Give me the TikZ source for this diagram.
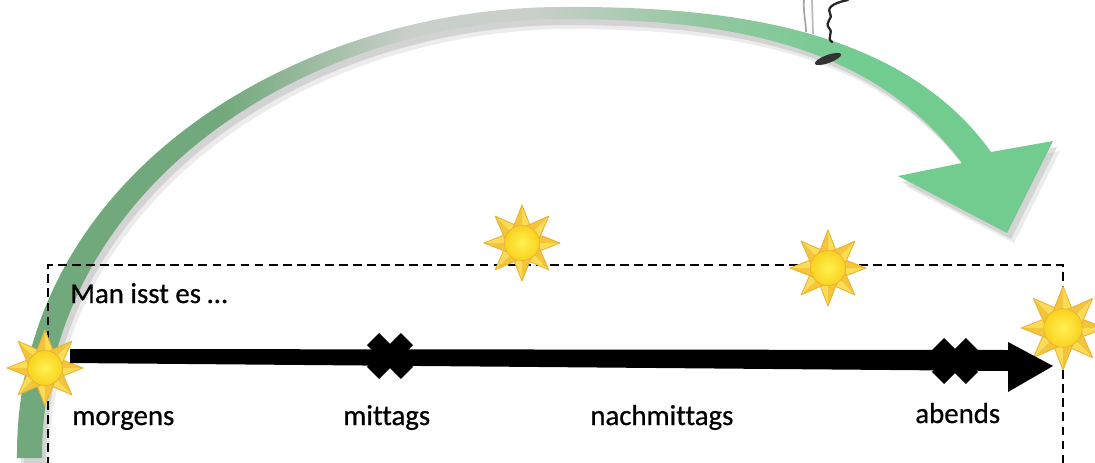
\documentclass[tikz,border=0pt]{standalone}
\usepackage{fontspec}
\setmainfont{Carlito}[Ligatures=NoCommon, FakeBold=0.6]

% colours of the day-arc, the suns and the frame
\definecolor{bandL}{HTML}{72A97C}
\definecolor{bandM}{HTML}{C9CFC9}
\definecolor{bandR2}{HTML}{93C7A0}
\definecolor{bandR}{HTML}{72CC90}
\definecolor{rayA}{HTML}{FBDC56}
\definecolor{rayB}{HTML}{F4C43A}
\definecolor{sunedge}{HTML}{E9B233}
\definecolor{sunhi}{HTML}{FFF150}
\definecolor{sunlo}{HTML}{F9D21E}

% left-to-right colour run of the arc (the path box spans 25bp..75bp)
\pgfdeclarehorizontalshading{arcband}{100bp}{%
  color(0bp)=(bandL); color(35bp)=(bandL); color(44bp)=(bandM);
  color(50bp)=(bandM); color(58bp)=(bandR2); color(66bp)=(bandR);
  color(100bp)=(bandR)}

\tikzset{
  % outline of the green arc with its arrowhead
  bandpath/.style={insert path={
    (17,458) .. controls (15,172) and (300,8) .. (560,7)
    .. controls (720,6) and (900,25) .. (991,152)
    -- (1053,141) -- (1007,233) -- (898,176) -- (962,163)
    .. controls (870,40) and (720,19) .. (560,19)
    .. controls (300,21) and (42,190) .. (42,458) -- cycle}},
  framebox/.style={draw=black, line width=1.1pt, dash pattern=on 5pt off 3pt},
  lbl/.style={font=\fontsize{16.4}{20}\selectfont, text=black,
    inner sep=0pt, anchor=base west},
  % a sun: eight two-tone rays round a shaded disk
  sun/.pic={
    \foreach \a in {0,45,...,315}{
      \fill[rayA] (\a+31:17.5) -- (\a:38) -- (\a:15) -- cycle;
      \fill[rayB] (\a-31:17.5) -- (\a:38) -- (\a:15) -- cycle;
      \draw[sunedge, line width=0.5pt, line join=round]
        (\a+31:17.5) -- (\a:38) -- (\a-31:17.5);
    }
    \shade[inner color=sunhi, outer color=sunlo] (0,0) circle (17.5);
    \draw[sunedge, line width=0.4pt] (0,0) circle (17.5);
  },
  % a thick black cross mark on the time line
  xmark/.pic={
    \fill[black, rotate=45] (-24,-8.5) rectangle (24,8.5);
    \fill[black, rotate=-45] (-24,-8.5) rectangle (24,8.5);
  }
}

\begin{document}
\begin{tikzpicture}[x=0.02cm, y=-0.02cm]
\useasboundingbox (0,0) rectangle (1095,463);

% soft shadow under the arc
\fill[gray!60, opacity=.25, shift={(7,10)}, bandpath];
\fill[gray!70, opacity=.35, shift={(4,6)}, bandpath];
% the arc itself
\shade[shading=arcband, bandpath];

% sketch remnants at the top edge
\draw[gray!70, line width=1pt] (804,0) .. controls (803,12) and (806,22) .. (806,32);
\draw[gray!55, line width=1pt] (812,0) -- (813,34);
\draw[black!85, line width=1.3pt, line cap=round]
  (848,0) .. controls (838,2) and (826,6) .. (830,13)
  .. controls (834,18) and (824,22) .. (829,28)
  .. controls (834,33) and (826,38) .. (832,42);
\fill[black!80, rotate around={20:(828,59)}] (828,59) ellipse (14 and 4);

% dashed frame, open at the bottom
\draw[framebox] (48,480) -- (48,265) -- (1063,265) -- (1063,480);

% suns along the course of the day
\pic (sunA) at (45,368) {sun};
\pic (sunB) at (522,243) {sun};
\pic (sunC) at (828,268) {sun};
\pic[scale=1.1] (sunD) at (1063,328) {sun};

% time line with its arrowhead
\coordinate (tstart) at (70,356);
\coordinate (tend) at (1053,366);
\fill[black] (tstart) ++(0,-7) -- (1008,350) -- (1008,342) -- (tend)
  -- (1008,392) -- (1008,371) -- (70,363) -- cycle;

% meal times
\pic (xA) at (390,356) {xmark};
\pic (xB) at (955,361) {xmark};

% texts
\node[lbl] (lead) at (70,303) {Man isst es …};
\node[lbl] (morgens) at (72,425) {morgens};
\node[lbl] (mittags) at (343,425) {mittags};
\node[lbl] (nachmittags) at (590,425) {nachmittags};
\node[lbl] (abends) at (915,423) {abends};
\end{tikzpicture}
\end{document}
